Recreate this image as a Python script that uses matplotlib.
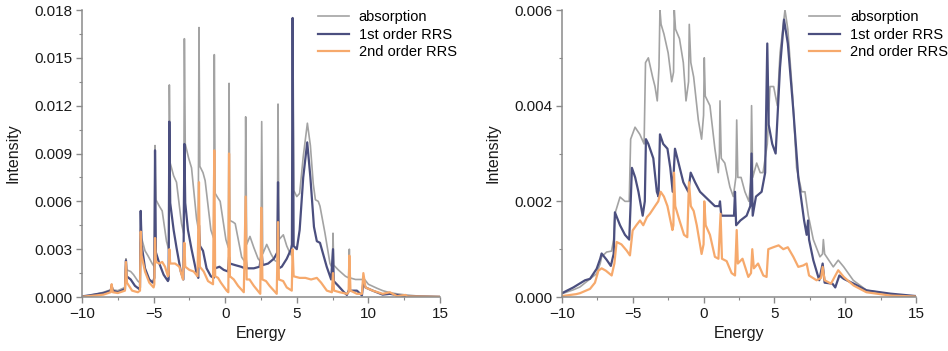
import matplotlib
matplotlib.use('Agg')
import matplotlib.pyplot as plt
from matplotlib.ticker import MultipleLocator, FormatStrFormatter

plt.rcParams['font.family'] = ['Liberation Sans', 'DejaVu Sans']

# ---------------- left panel ----------------
left_abs_e = [-10.0, -9.5, -9.0, -8.5, -8.0, -7.93, -7.85, -7.5, -7.0, -6.93, -6.88, -6.6, -6.4, -6.1,
              -5.95, -5.9, -5.84, -5.6, -5.4, -5.1, -4.95, -4.9, -4.84, -4.6, -4.4, -4.1, -3.95, -3.9,
              -3.84, -3.6, -3.4, -3.05, -2.9, -2.85, -2.79, -2.55, -2.35, -2.0, -1.88, -1.83, -1.77,
              -1.55, -1.4, -1.0, -0.81, -0.76, -0.7, -0.5, -0.35, 0.05, 0.22, 0.27, 0.33, 0.55, 0.7,
              1.15, 1.38, 1.43, 1.5, 1.73, 2.0, 2.3, 2.5, 2.55, 2.62, 2.9, 3.2, 3.45, 3.64, 3.69, 3.75,
              4.06, 4.3, 4.55, 4.66, 4.71, 4.78, 5.0, 5.2, 5.45, 5.74, 5.95, 6.15, 6.3, 6.5, 6.62, 6.97,
              7.32, 7.49, 7.53, 7.58, 7.9, 8.4, 8.62, 8.67, 8.72, 9.1, 9.6, 9.65, 10.0, 10.6, 11.0,
              11.5, 12.0, 12.6, 13.5, 15.0]
left_abs_i = [0.00004, 0.0001, 0.00018, 0.0003, 0.00045, 0.0008, 0.00045, 0.0004, 0.0006, 0.0024, 0.0017,
              0.0016, 0.0014, 0.001, 0.0009, 0.0054, 0.0037, 0.0029, 0.0026, 0.0021, 0.0019, 0.0095,
              0.0061, 0.0057, 0.0054, 0.0035, 0.003, 0.0133, 0.0084, 0.0076, 0.0072, 0.0046, 0.004,
              0.0162, 0.0096, 0.0087, 0.0081, 0.0049, 0.0043, 0.0169, 0.0082, 0.0078, 0.0073, 0.0042,
              0.0037, 0.0152, 0.0065, 0.0062, 0.006, 0.0036, 0.0031, 0.0134, 0.0048, 0.0047, 0.0046,
              0.0025, 0.0022, 0.0113, 0.0033, 0.0038, 0.0031, 0.0024, 0.0022, 0.011, 0.0027, 0.0033,
              0.0027, 0.0023, 0.0022, 0.0121, 0.0036, 0.0039, 0.0032, 0.0027, 0.0026, 0.0175, 0.0067,
              0.0063, 0.0065, 0.0088, 0.0109, 0.0095, 0.0071, 0.0061, 0.006, 0.0057, 0.004, 0.0021,
              0.0018, 0.004, 0.002, 0.0017, 0.0013, 0.0012, 0.003, 0.0012, 0.0011, 0.0011, 0.0012,
              0.0008, 0.00055, 0.0004, 0.00027, 0.0002, 0.00013, 0.00006, 0.00002]

left_rrs1_e = [-10.0, -9.5, -9.0, -8.5, -8.0, -7.93, -7.85, -7.5, -7.0, -6.93, -6.88, -6.6, -6.3, -6.0,
               -5.95, -5.9, -5.84, -5.6, -5.3, -5.05, -4.95, -4.9, -4.84, -4.6, -4.3, -4.0, -3.95, -3.9,
               -3.84, -3.6, -3.4, -3.1, -2.92, -2.85, -2.79, -2.6, -2.35, -2.0, -1.88, -1.83, -1.76,
               -1.55, -1.3, -1.0, -0.8, -0.76, -0.7, -0.4, -0.1, 0.2, 0.27, 0.33, 0.7, 1.1, 1.38, 1.43,
               1.5, 2.0, 2.4, 2.55, 2.62, 3.0, 3.4, 3.64, 3.69, 3.75, 3.95, 4.3, 4.6, 4.66, 4.71, 4.78,
               5.0, 5.2, 5.45, 5.73, 5.95, 6.2, 6.4, 6.62, 7.09, 7.4, 7.53, 7.58, 7.9, 8.3, 8.5, 8.67,
               8.75, 9.2, 9.55, 9.65, 9.8, 10.3, 11.0, 11.5, 12.5, 15.0]
left_rrs1_i = [0.00004, 0.0001, 0.00018, 0.00025, 0.0004, 0.0007, 0.0004, 0.0003, 0.0005, 0.0023, 0.0013,
               0.0011, 0.0007, 0.0005, 0.0006, 0.0054, 0.0033, 0.0018, 0.0011, 0.0009, 0.0012, 0.0092,
               0.0028, 0.0021, 0.0014, 0.001, 0.0011, 0.011, 0.0059, 0.0042, 0.0031, 0.0016, 0.0011,
               0.0096, 0.0059, 0.0042, 0.003, 0.0015, 0.0012, 0.0045, 0.0032, 0.0029, 0.0018, 0.0013,
               0.0012, 0.0022, 0.0018, 0.0019, 0.0017, 0.0016, 0.0025, 0.0021, 0.002, 0.0019, 0.0018,
               0.0025, 0.0018, 0.0018, 0.0019, 0.0028, 0.002, 0.0021, 0.0024, 0.0028, 0.0072, 0.0018,
               0.0019, 0.0024, 0.003, 0.0033, 0.0175, 0.0032, 0.003, 0.0042, 0.0075, 0.0097, 0.0075,
               0.0044, 0.0035, 0.0034, 0.0019, 0.0011, 0.003, 0.001, 0.0007, 0.0003, 0.00013, 0.0005,
               0.0004, 0.0004, 0.0001, 0.00096, 0.0006, 0.0004, 0.00015, 0.0002, 0.00005, 0.00001]

left_rrs2_e = [-10.0, -9.0, -8.5, -8.0, -7.93, -7.85, -7.5, -7.0, -6.93, -6.86, -6.5, -6.1, -5.95, -5.9,
               -5.84, -5.6, -5.3, -5.0, -4.95, -4.9, -4.84, -4.6, -4.4, -4.2, -4.0, -3.95, -3.9, -3.84,
               -3.5, -3.2, -2.95, -2.85, -2.79, -2.5, -2.2, -1.93, -1.83, -1.77, -1.5, -1.2, -0.85,
               -0.76, -0.7, -0.5, -0.3, 0.1, 0.22, 0.27, 0.33, 0.6, 0.9, 1.3, 1.43, 1.5, 1.7, 2.0, 2.45,
               2.52, 2.6, 2.85, 3.1, 3.6, 3.69, 3.75, 4.05, 4.3, 4.65, 4.71, 4.78, 5.2, 5.6, 6.0, 6.4,
               6.7, 7.1, 7.45, 7.53, 7.6, 8.0, 8.5, 8.62, 8.67, 8.75, 9.2, 9.55, 9.65, 9.8, 10.3, 11.0,
               11.5, 12.0, 12.6, 12.7, 15.0]
left_rrs2_i = [0.00002, 0.0001, 0.00015, 0.0003, 0.0008, 0.0003, 0.00025, 0.0004, 0.0022, 0.0009, 0.0004,
               0.0003, 0.0004, 0.0041, 0.0026, 0.0016, 0.0009, 0.0006, 0.0008, 0.0037, 0.0022, 0.0021,
               0.0022, 0.0019, 0.0013, 0.0014, 0.003, 0.0021, 0.0021, 0.0019, 0.0011, 0.0034, 0.0019,
               0.0017, 0.0016, 0.0013, 0.0072, 0.0019, 0.0016, 0.001, 0.0008, 0.0092, 0.0013, 0.0012,
               0.0009, 0.0004, 0.0003, 0.009, 0.0013, 0.0011, 0.0007, 0.0003, 0.0063, 0.0011, 0.0011,
               0.0007, 0.0002, 0.0056, 0.0011, 0.001, 0.0007, 0.0002, 0.0047, 0.0011, 0.001, 0.0006,
               0.0004, 0.003, 0.0013, 0.0012, 0.0012, 0.0011, 0.0012, 0.0009, 0.0004, 0.0003, 0.0015,
               0.0004, 0.0003, 0.0002, 0.0003, 0.0026, 0.0004, 0.0002, 0.0002, 0.0015, 0.0006, 0.0004,
               0.0002, 0.0003, 0.00005, 0.00013, 0.00004, 0.00001]

# ---------------- right panel ----------------
right_abs_e = [-10.0, -9.2, -8.73, -8.14, -7.55, -7.3, -7.2, -6.85, -6.5, -6.35, -6.26, -5.9, -5.55, -5.25,
               -5.15, -4.84, -4.5, -4.2, -4.1, -3.9, -3.6, -3.43, -3.27, -3.15, -3.08, -3.0, -2.8, -2.5,
               -2.25, -2.12, -2.07, -1.98, -1.7, -1.43, -1.24, -1.06, -1.01, -0.9, -0.7, -0.37, -0.14,
               0.0, 0.05, 0.12, 0.45, 0.8, 1.04, 1.12, 1.16, 1.25, 1.5, 1.86, 2.1, 2.28, 2.34, 2.42,
               2.65, 2.92, 3.2, 3.33, 3.39, 3.47, 3.75, 4.0, 4.2, 4.5, 4.69, 4.95, 5.21, 5.4, 5.75, 5.95,
               6.29, 6.57, 6.93, 7.16, 7.4, 7.75, 8.22, 8.4, 8.46, 8.55, 9.16, 9.51, 9.9, 10.57, 11.52,
               13.16, 15.0]
right_abs_i = [0.00007, 0.00015, 0.00021, 0.00035, 0.00049, 0.0007, 0.00084, 0.00094, 0.00096, 0.0012,
               0.00174, 0.00209, 0.002, 0.002, 0.0033, 0.00355, 0.0034, 0.0032, 0.0049, 0.005, 0.0046,
               0.0044, 0.0041, 0.0048, 0.006, 0.0057, 0.0055, 0.0051, 0.0045, 0.0047, 0.006, 0.0056,
               0.0054, 0.0049, 0.0041, 0.0045, 0.0057, 0.0049, 0.0046, 0.0037, 0.0033, 0.0038, 0.005,
               0.0042, 0.004, 0.0031, 0.0026, 0.003, 0.0041, 0.0029, 0.0028, 0.0023, 0.0021, 0.0025,
               0.0037, 0.0025, 0.0025, 0.0022, 0.002, 0.0024, 0.004, 0.0025, 0.0028, 0.0026, 0.0026,
               0.0032, 0.0044, 0.0044, 0.004, 0.0051, 0.006, 0.0056, 0.0042, 0.0027, 0.0022, 0.0022,
               0.0017, 0.0012, 0.00084, 0.0009, 0.0012, 0.0009, 0.00063, 0.00077, 0.00063, 0.00035,
               0.00014, 0.00006, 0.00001]

right_rrs1_e = [-10.0, -9.2, -8.37, -8.02, -7.55, -7.3, -7.2, -6.85, -6.55, -6.35, -6.26, -5.9, -5.55,
                -5.25, -5.12, -5.06, -4.83, -4.6, -4.3, -4.15, -4.07, -3.9, -3.55, -3.3, -3.18, -3.08,
                -2.85, -2.55, -2.35, -2.18, -2.02, -1.85, -1.43, -1.08, -0.91, -0.6, -0.25, 0.1, 0.45,
                0.8, 1.1, 1.16, 1.25, 1.63, 1.98, 2.15, 2.22, 2.3, 2.6, 3.04, 3.3, 3.39, 3.47, 3.7, 4.1,
                4.35, 4.5, 4.6, 4.85, 5.09, 5.4, 5.68, 5.95, 6.34, 6.69, 7.1, 7.28, 7.38, 7.45, 7.75,
                8.17, 8.41, 8.55, 9.1, 9.3, 9.59, 9.9, 10.6, 11.5, 13.2, 15.0]
right_rrs1_i = [0.00008, 0.0002, 0.00035, 0.00038, 0.00059, 0.0008, 0.00091, 0.00078, 0.00065, 0.0009,
                0.00177, 0.0015, 0.0013, 0.0012, 0.0022, 0.0027, 0.0025, 0.0022, 0.0017, 0.002, 0.0033,
                0.0032, 0.0029, 0.0022, 0.0021, 0.0034, 0.0032, 0.0031, 0.0027, 0.0022, 0.0031, 0.0029,
                0.0024, 0.0022, 0.0026, 0.0024, 0.0022, 0.0021, 0.002, 0.0019, 0.0019, 0.002, 0.0017,
                0.0017, 0.0017, 0.0017, 0.0022, 0.0015, 0.0016, 0.0017, 0.0019, 0.003, 0.0017, 0.0021,
                0.0022, 0.0026, 0.0053, 0.0036, 0.0032, 0.003, 0.0048, 0.0058, 0.0053, 0.0039, 0.0025,
                0.0016, 0.0013, 0.0016, 0.0012, 0.00077, 0.00035, 0.0007, 0.0003, 0.00028, 0.0002,
                0.00045, 0.00038, 0.00028, 0.00014, 0.00007, 0.00002]

right_rrs2_e = [-10.0, -9.0, -8.73, -8.02, -7.67, -7.43, -7.2, -6.9, -6.49, -6.3, -6.14, -5.8, -5.43, -5.2,
                -5.01, -4.75, -4.49, -4.26, -4.0, -3.79, -3.43, -3.2, -3.03, -2.8, -2.55, -2.2, -2.13,
                -2.09, -2.0, -1.7, -1.38, -1.15, -1.03, -0.9, -0.7, -0.48, -0.14, 0.0, 0.05, 0.15, 0.45,
                0.8, 1.05, 1.2, 1.3, 1.63, 1.98, 2.22, 2.34, 2.42, 2.75, 3.16, 3.35, 3.44, 3.55, 3.85,
                4.22, 4.45, 4.57, 4.92, 5.3, 5.63, 5.95, 6.34, 6.69, 7.04, 7.28, 7.45, 7.98, 8.3, 8.41,
                8.55, 9.0, 9.51, 9.9, 10.6, 11.5, 13.2, 15.0]
right_rrs2_i = [0.00002, 0.00006, 0.00008, 0.00017, 0.0003, 0.00055, 0.0006, 0.00055, 0.00045, 0.0007,
                0.00115, 0.0011, 0.00097, 0.00087, 0.00139, 0.0015, 0.0016, 0.0015, 0.00167, 0.00174,
                0.0019, 0.002, 0.0022, 0.0021, 0.0019, 0.0014, 0.0015, 0.0026, 0.0019, 0.0016, 0.0013,
                0.00125, 0.0024, 0.0019, 0.0018, 0.0015, 0.0009, 0.0011, 0.002, 0.0015, 0.0013, 0.00084,
                0.0008, 0.00174, 0.0008, 0.00075, 0.0005, 0.00045, 0.0014, 0.0007, 0.0008, 0.00042,
                0.0005, 0.001, 0.0006, 0.0007, 0.00045, 0.00042, 0.001, 0.00104, 0.00108, 0.001, 0.00104,
                0.00084, 0.00063, 0.00066, 0.0007, 0.00045, 0.00035, 0.0004, 0.00063, 0.00035, 0.00028,
                0.00056, 0.00042, 0.00024, 0.0001, 0.00003, 0.00001]

labels = ['absorption', '1st order RRS', '2nd order RRS']
colors = ['#a3a3a3', '#4b4f7f', '#f6a96c']
axis_grey = '#8a8a8a'

fig = plt.figure(figsize=(9.48, 3.51), dpi=100)
ax1 = fig.add_axes([0.0865, 0.1538, 0.3776, 0.8177])
ax2 = fig.add_axes([0.5928, 0.1538, 0.3734, 0.8177])

panels = [
    (ax1, [(left_abs_e, left_abs_i), (left_rrs1_e, left_rrs1_i), (left_rrs2_e, left_rrs2_i)],
     0.018, 0.003, 0.0015, 0.659),
    (ax2, [(right_abs_e, right_abs_i), (right_rrs1_e, right_rrs1_i), (right_rrs2_e, right_rrs2_i)],
     0.006, 0.002, 0.001, 0.698),
]

for ax, series, ytop, ystep, yminor, legx in panels:
    widths = [1.2, 1.6, 1.6]
    for (e, i), lab, c, lw in zip(series, labels, colors, widths):
        ax.plot(e, i, color=c, lw=lw, label=lab, solid_joinstyle='round')
    ax.set_xlim(-10, 15)
    ax.set_ylim(0, ytop)
    ax.xaxis.set_major_locator(MultipleLocator(5))
    ax.xaxis.set_minor_locator(MultipleLocator(2.5))
    ax.yaxis.set_major_locator(MultipleLocator(ystep))
    ax.yaxis.set_minor_locator(MultipleLocator(yminor))
    ax.yaxis.set_major_formatter(FormatStrFormatter('%.3f'))
    for side in ['top', 'right']:
        ax.spines[side].set_visible(False)
    for side in ['left', 'bottom']:
        ax.spines[side].set_color(axis_grey)
        ax.spines[side].set_linewidth(1.1)
    ax.tick_params(which='major', direction='out', length=4, width=1.0, color=axis_grey,
                   labelsize=11, pad=3, labelcolor='#1a1a1a')
    ax.tick_params(which='minor', direction='out', length=2.5, width=0.8, color=axis_grey)
    ax.set_xlabel('Energy', fontsize=11.5, labelpad=4, color='#1a1a1a')
    ax.set_ylabel('Intensity', fontsize=11.5, labelpad=10, color='#1a1a1a')
    ax.legend(loc='upper left', bbox_to_anchor=(legx, 1.0), frameon=False, fontsize=10.5,
              borderpad=0, borderaxespad=0, handlelength=2.1, handletextpad=0.7, labelspacing=0.25)

fig.savefig('out.png', dpi=100)
